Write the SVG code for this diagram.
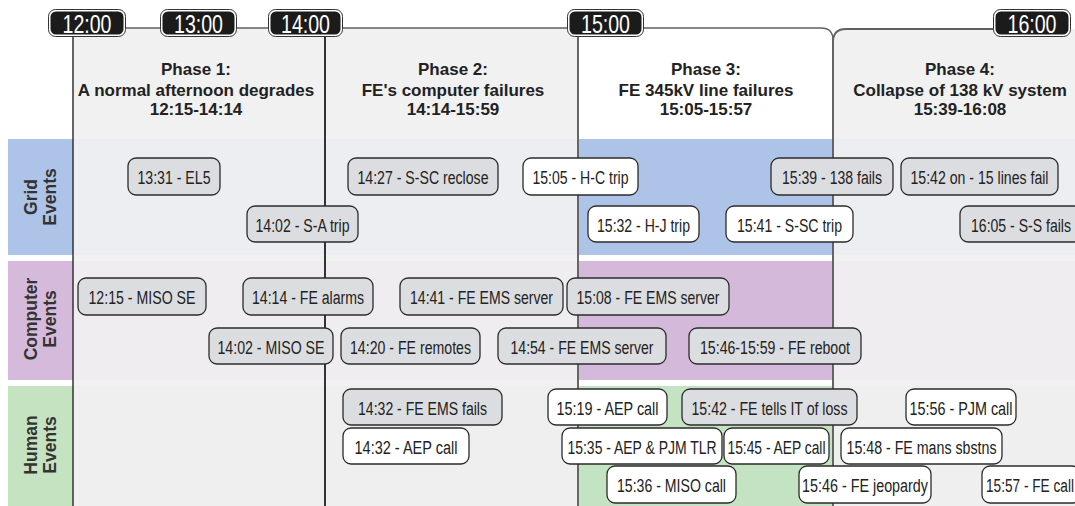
<svg xmlns="http://www.w3.org/2000/svg" width="1075" height="506" viewBox="0 0 1075 506">
<style>
.ev rect{stroke:#2b2b2b;stroke-width:1.3}
.g rect{fill:#dcdde0}
.w rect{fill:#ffffff}
.ev text{font-family:"Liberation Sans",Arial,sans-serif;font-size:18px;fill:#222;text-anchor:middle}
.ph text{font-family:"Liberation Sans",Arial,sans-serif;font-size:17px;font-weight:bold;fill:#222;text-anchor:middle}
.lab text{font-family:"Liberation Sans",Arial,sans-serif;font-size:17.5px;font-weight:bold;fill:#333;text-anchor:middle}
.bo{fill:#ffffff;stroke:#333;stroke-width:1}
.bi{fill:#1b1b1b}
.bt{font-family:"Liberation Sans",Arial,sans-serif;font-size:25px;fill:#fff;text-anchor:middle}
</style>
<rect x="0" y="0" width="1075" height="506" fill="#ffffff"/>
<g id="phase-backgrounds">
<rect x="73" y="28" width="252" height="478" fill="#f1f1f1"/>
<rect x="325" y="28" width="253" height="478" fill="#f1f1f1"/>
<path d="M578,28 H821 Q833,28 833,40 V506 H578 Z" fill="#ffffff"/>
<path d="M833,506 V42 Q833,29 846,29 H1080 V506 Z" fill="#f1f1f1"/>
</g>
<g id="rows">
<rect x="8" y="139" width="65" height="116" fill="#adc4e8"/>
<rect x="73" y="139" width="1002" height="116" fill="#eceef2"/>
<rect x="578" y="139" width="255" height="116" fill="#adc3e8"/>
<rect x="8" y="261" width="65" height="119" fill="#d5badb"/>
<rect x="73" y="261" width="1002" height="119" fill="#efedf0"/>
<rect x="578" y="261" width="255" height="119" fill="#d5b9db"/>
<rect x="8" y="386" width="65" height="120" fill="#c5e2c1"/>
<rect x="73" y="386" width="1002" height="120" fill="#eeefee"/>
<rect x="578" y="386" width="255" height="120" fill="#c4e3c2"/>
</g>
<g id="lines" fill="none">
<path d="M86,28 H821 Q833,28 833,40 V506" stroke="#606060" stroke-width="1.3"/>
<path d="M1032,29 H846 Q833,29 833,42 V506" stroke="#606060" stroke-width="1.8"/>
<line x1="73" y1="28" x2="73" y2="506" stroke="#333" stroke-width="1.5"/>
<line x1="325" y1="28" x2="325" y2="506" stroke="#333" stroke-width="2"/>
<line x1="578" y1="28" x2="578" y2="506" stroke="#666" stroke-width="2"/>
</g>
<g id="badge-1200"><rect class="bo" x="48.5" y="9.5" width="77" height="27" rx="7"/><rect class="bi" x="50.5" y="11.5" width="73" height="23" rx="5.5"/><text class="bt" x="87" y="33" textLength="49" lengthAdjust="spacingAndGlyphs">12:00</text></g>
<g id="badge-1300"><rect class="bo" x="160.5" y="9.5" width="76" height="27" rx="7"/><rect class="bi" x="162.5" y="11.5" width="72" height="23" rx="5.5"/><text class="bt" x="198.5" y="33" textLength="49" lengthAdjust="spacingAndGlyphs">13:00</text></g>
<g id="badge-1400"><rect class="bo" x="268.5" y="9.5" width="74" height="27" rx="7"/><rect class="bi" x="270.5" y="11.5" width="70" height="23" rx="5.5"/><text class="bt" x="305.5" y="33" textLength="49" lengthAdjust="spacingAndGlyphs">14:00</text></g>
<g id="badge-1500"><rect class="bo" x="567.5" y="9.5" width="76" height="27" rx="7"/><rect class="bi" x="569.5" y="11.5" width="72" height="23" rx="5.5"/><text class="bt" x="605.5" y="33" textLength="49" lengthAdjust="spacingAndGlyphs">15:00</text></g>
<g id="badge-1600"><rect class="bo" x="993.5" y="9.5" width="77" height="27" rx="7"/><rect class="bi" x="995.5" y="11.5" width="73" height="23" rx="5.5"/><text class="bt" x="1032" y="33" textLength="49" lengthAdjust="spacingAndGlyphs">16:00</text></g>
<g id="phase1" class="ph"><text x="196" y="75">Phase 1:</text><text x="196" y="95.5">A normal afternoon degrades</text><text x="196" y="115">12:15-14:14</text></g>
<g id="phase2" class="ph"><text x="453" y="75">Phase 2:</text><text x="453" y="95.5">FE's computer failures</text><text x="453" y="115">14:14-15:59</text></g>
<g id="phase3" class="ph"><text x="706" y="75">Phase 3:</text><text x="706" y="95.5">FE 345kV line failures</text><text x="706" y="115">15:05-15:57</text></g>
<g id="phase4" class="ph"><text x="960" y="75">Phase 4:</text><text x="960" y="95.5">Collapse of 138 kV system</text><text x="960" y="115">15:39-16:08</text></g>
<g id="label-grid" class="lab" transform="translate(40,197) rotate(-90)"><text x="0" y="-3.5">Grid</text><text x="0" y="15.5">Events</text></g>
<g id="label-computer" class="lab" transform="translate(40,319) rotate(-90)"><text x="0" y="-3.5">Computer</text><text x="0" y="15.5">Events</text></g>
<g id="label-human" class="lab" transform="translate(40,445) rotate(-90)"><text x="0" y="-3.5">Human</text><text x="0" y="15.5">Events</text></g>

<g id="ev-1331" class="ev g"><rect x="128" y="158" width="92" height="37" rx="8"/><text x="174" y="184" textLength="73" lengthAdjust="spacingAndGlyphs">13:31 - EL5</text></g>
<g id="ev-1427" class="ev g"><rect x="348" y="158" width="150" height="37" rx="8"/><text x="423" y="184" textLength="131" lengthAdjust="spacingAndGlyphs">14:27 - S-SC reclose</text></g>
<g id="ev-1505" class="ev w"><rect x="523" y="158" width="115" height="37" rx="8"/><text x="580.5" y="184" textLength="96" lengthAdjust="spacingAndGlyphs">15:05 - H-C trip</text></g>
<g id="ev-1539" class="ev g"><rect x="771" y="158" width="122" height="37" rx="8"/><text x="832" y="184" textLength="100" lengthAdjust="spacingAndGlyphs">15:39 - 138 fails</text></g>
<g id="ev-1542" class="ev g"><rect x="901" y="158" width="157" height="37" rx="8"/><text x="979.5" y="184" textLength="138" lengthAdjust="spacingAndGlyphs">15:42 on - 15 lines fail</text></g>
<g id="ev-1402" class="ev g"><rect x="247" y="206" width="111" height="36" rx="8"/><text x="302.5" y="231.5" textLength="94" lengthAdjust="spacingAndGlyphs">14:02 - S-A trip</text></g>
<g id="ev-1532" class="ev w"><rect x="588" y="206" width="111" height="36" rx="8"/><text x="643.5" y="231.5" textLength="93" lengthAdjust="spacingAndGlyphs">15:32 - H-J trip</text></g>
<g id="ev-1541" class="ev w"><rect x="726" y="206" width="127" height="36" rx="8"/><text x="789.5" y="231.5" textLength="105" lengthAdjust="spacingAndGlyphs">15:41 - S-SC trip</text></g>
<g id="ev-1605" class="ev g"><rect x="960" y="206" width="122" height="36" rx="8"/><text x="1021" y="231.5" textLength="100" lengthAdjust="spacingAndGlyphs">16:05 - S-S fails</text></g>

<g id="ev-1215" class="ev g"><rect x="78" y="278" width="128" height="37" rx="8"/><text x="142" y="304" textLength="107" lengthAdjust="spacingAndGlyphs">12:15 - MISO SE</text></g>
<g id="ev-1414" class="ev g"><rect x="243" y="278" width="130" height="37" rx="8"/><text x="308" y="304" textLength="112" lengthAdjust="spacingAndGlyphs">14:14 - FE alarms</text></g>
<g id="ev-1441" class="ev g"><rect x="400" y="278" width="163" height="37" rx="8"/><text x="481.5" y="304" textLength="143" lengthAdjust="spacingAndGlyphs">14:41 - FE EMS server</text></g>
<g id="ev-1508" class="ev g"><rect x="567" y="278" width="162" height="37" rx="8"/><text x="648" y="304" textLength="143" lengthAdjust="spacingAndGlyphs">15:08 - FE EMS server</text></g>
<g id="ev-1402b" class="ev g"><rect x="209" y="328" width="124" height="36" rx="8"/><text x="271" y="353.5" textLength="107" lengthAdjust="spacingAndGlyphs">14:02 - MISO SE</text></g>
<g id="ev-1420" class="ev g"><rect x="341" y="328" width="139" height="36" rx="8"/><text x="410.5" y="353.5" textLength="121" lengthAdjust="spacingAndGlyphs">14:20 - FE remotes</text></g>
<g id="ev-1454" class="ev g"><rect x="498" y="328" width="168" height="36" rx="8"/><text x="582" y="353.5" textLength="143" lengthAdjust="spacingAndGlyphs">14:54 - FE EMS server</text></g>
<g id="ev-1546" class="ev g"><rect x="689" y="328" width="172" height="36" rx="8"/><text x="775" y="353.5" textLength="150" lengthAdjust="spacingAndGlyphs">15:46-15:59 - FE reboot</text></g>

<g id="ev-1432a" class="ev g"><rect x="343" y="389" width="159" height="36" rx="8"/><text x="422.5" y="414.5" textLength="129" lengthAdjust="spacingAndGlyphs">14:32 - FE EMS fails</text></g>
<g id="ev-1519" class="ev w"><rect x="548" y="389" width="119" height="36" rx="8"/><text x="607.5" y="414.5" textLength="102" lengthAdjust="spacingAndGlyphs">15:19 - AEP call</text></g>
<g id="ev-1542b" class="ev g"><rect x="682" y="389" width="175" height="36" rx="8"/><text x="769.5" y="414.5" textLength="156" lengthAdjust="spacingAndGlyphs">15:42 - FE tells IT of loss</text></g>
<g id="ev-1556" class="ev w"><rect x="906" y="389" width="110" height="36" rx="8"/><text x="961" y="414.5" textLength="103" lengthAdjust="spacingAndGlyphs">15:56 - PJM call</text></g>
<g id="ev-1432b" class="ev w"><rect x="343" y="428" width="126" height="36" rx="8"/><text x="406" y="453.5" textLength="103" lengthAdjust="spacingAndGlyphs">14:32 - AEP call</text></g>
<g id="ev-1535" class="ev w"><rect x="562" y="428" width="160" height="36" rx="8"/><text x="642" y="453.5" textLength="149" lengthAdjust="spacingAndGlyphs">15:35 - AEP &amp; PJM TLR</text></g>
<g id="ev-1545" class="ev w"><rect x="724" y="428" width="105" height="36" rx="8"/><text x="776.5" y="453.5" textLength="98" lengthAdjust="spacingAndGlyphs">15:45 - AEP call</text></g>
<g id="ev-1548" class="ev w"><rect x="841" y="428" width="161" height="36" rx="8"/><text x="921.5" y="453.5" textLength="150" lengthAdjust="spacingAndGlyphs">15:48 - FE mans sbstns</text></g>
<g id="ev-1536" class="ev w"><rect x="607" y="466" width="129" height="37" rx="8"/><text x="671.5" y="492" textLength="109" lengthAdjust="spacingAndGlyphs">15:36 - MISO call</text></g>
<g id="ev-1546b" class="ev w"><rect x="799" y="466" width="132" height="37" rx="8"/><text x="865" y="492" textLength="126" lengthAdjust="spacingAndGlyphs">15:46 - FE jeopardy</text></g>
<g id="ev-1557" class="ev w"><rect x="982" y="466" width="98" height="37" rx="8"/><text x="1030" y="492" textLength="88" lengthAdjust="spacingAndGlyphs">15:57 - FE call</text></g>
</svg>
